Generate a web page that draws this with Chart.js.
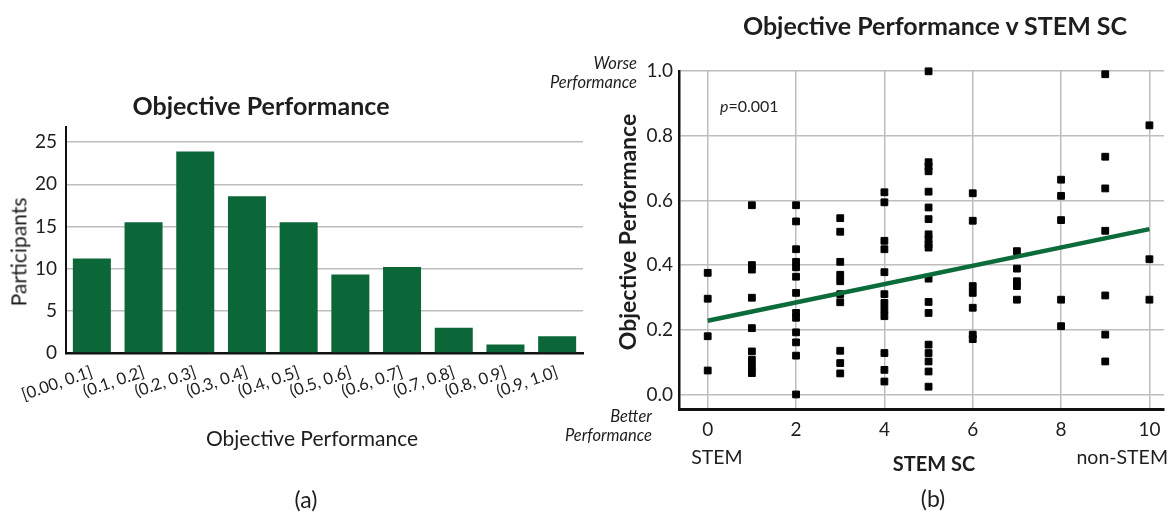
<!DOCTYPE html>
<html>
<head>
<meta charset="utf-8">
<script src="https://cdn.jsdelivr.net/npm/chart.js@4.4.1/dist/chart.umd.min.js"></script>
<style>
  html, body { margin: 0; padding: 0; background: #fff; }
  #wrap { position: relative; width: 1173px; height: 514px; overflow: hidden;
          font-family: Lato, "DejaVu Sans", sans-serif; color: #1e1e1e; }
  canvas { position: absolute; top: 0; }
  .t { position: absolute; white-space: nowrap; line-height: 1.2; }
  .c { transform: translate(-50%, -50%); }
  .r { transform: translate(-100%, -50%); text-align: right; }
  .l { transform: translate(0, -50%); }
  .v { transform: translate(-50%, -50%) rotate(-90deg); }
  .b { font-weight: 700; }
  .i { font-style: italic; }
</style>
</head>
<body>
<div id="wrap">
  <canvas id="hist" width="590" height="514" style="left:0;width:590px;height:514px"></canvas>
  <canvas id="scat" width="633" height="514" style="left:540px;width:633px;height:514px"></canvas>

  <!-- panel (a) -->
  <div class="t c b" style="left:261px;top:105px;font-size:25px">Objective Performance</div>
  <div class="t v" style="left:18px;top:252px;font-size:21px">Participants</div>
  <div class="t c" style="left:312px;top:438px;font-size:21px">Objective Performance</div>
  <div class="t c" style="left:306px;top:500px;font-size:23px">(a)</div>

  <!-- panel (b) -->
  <div class="t c b" style="left:935px;top:25px;font-size:25px">Objective Performance v STEM SC</div>
  <div class="t v b" style="left:628px;top:232px;font-size:23px">Objective Performance</div>
  <div class="t r i" style="left:637px;top:64px;font-size:16.5px">Worse</div>
  <div class="t r i" style="left:637px;top:83px;font-size:16.5px">Performance</div>
  <div class="t r i" style="left:652px;top:417px;font-size:16.5px">Better</div>
  <div class="t r i" style="left:652px;top:436px;font-size:16.5px">Performance</div>
  <div class="t l" style="left:720px;top:106px;font-size:16px"><span class="i">p</span>=0.001</div>
  <div class="t c" style="left:717px;top:457px;font-size:19.5px">STEM</div>
  <div class="t c b" style="left:934px;top:463px;font-size:20px">STEM SC</div>
  <div class="t r" style="left:1168px;top:457px;font-size:19.5px">non-STEM</div>
  <div class="t c" style="left:933px;top:499px;font-size:23px">(b)</div>
</div>

<script>
// Histogram of objective performance scores
const binLabels = ['[0.00, 0.1]', '(0.1, 0.2]', '(0.2, 0.3]', '(0.3, 0.4]', '(0.4, 0.5]',
                   '(0.5, 0.6]', '(0.6, 0.7]', '(0.7, 0.8]', '(0.8, 0.9]', '(0.9, 1.0]'];
const participants = [11.2, 15.5, 23.9, 18.6, 15.5, 9.3, 10.2, 3, 1, 2];

// Objective performance of each participant, grouped by STEM self-concept score
const scLevels = [0, 1, 2, 3, 4, 5, 6, 7, 8, 9, 10];
const perfBySc = [
  [0.376, 0.296, 0.18, 0.074],
  [0.585, 0.40, 0.386, 0.299, 0.205, 0.133, 0.107, 0.086, 0.066],
  [0.585, 0.535, 0.449, 0.41, 0.393, 0.364, 0.314, 0.252, 0.237, 0.192, 0.161, 0.12, 0.0],
  [0.545, 0.503, 0.41, 0.37, 0.35, 0.31, 0.285, 0.135, 0.097, 0.065],
  [0.625, 0.594, 0.475, 0.449, 0.378, 0.31, 0.283, 0.262, 0.242, 0.128, 0.076, 0.04],
  [0.999, 0.718, 0.705, 0.69, 0.627, 0.578, 0.542, 0.495, 0.48, 0.464, 0.454, 0.358,
   0.286, 0.252, 0.154, 0.128, 0.102, 0.071, 0.024],
  [0.622, 0.537, 0.335, 0.314, 0.268, 0.185, 0.171],
  [0.443, 0.389, 0.35, 0.335, 0.293],
  [0.664, 0.614, 0.539, 0.293, 0.211],
  [0.99, 0.735, 0.637, 0.506, 0.306, 0.185, 0.102],
  [0.832, 0.418, 0.293]
];

// Least-squares fit line end points
const fitX = [0, 10];
const fitY = [0.228, 0.511];

const textColor = '#1e1e1e';
const gridColor = '#bdbdbd';
const fontFamily = 'Lato, "DejaVu Sans", sans-serif';

new Chart(document.getElementById('hist'), {
  type: 'bar',
  data: {
    labels: binLabels,
    datasets: [{
      data: participants,
      backgroundColor: '#0b6638',
      categoryPercentage: 1,
      barPercentage: 0.735
    }]
  },
  options: {
    responsive: false,
    animation: false,
    layout: { padding: { top: 127, right: 7, bottom: 65, left: 0 } },
    plugins: { legend: { display: false }, tooltip: { enabled: false } },
    scales: {
      x: {
        grid: { display: false },
        border: { display: true, color: '#111', width: 2.5 },
        ticks: {
          autoSkip: false, minRotation: 19, maxRotation: 19, padding: 1,
          color: textColor, font: { family: fontFamily, size: 16.5 }
        },
        afterFit: s => { s.height = 96; }
      },
      y: {
        min: 0, max: 26.8,
        grid: { color: gridColor, lineWidth: 1.5, drawTicks: false },
        border: { display: true, color: '#111', width: 2 },
        ticks: {
          stepSize: 5, includeBounds: false, padding: 9,
          color: textColor, font: { family: fontFamily, size: 19 }
        },
        afterFit: s => { s.width = 66; }
      }
    }
  }
});

const scatterPoints = [];
scLevels.forEach((sc, i) => perfBySc[i].forEach(p => scatterPoints.push({ x: sc, y: p })));
const fitPoints = fitX.map((x, i) => ({ x, y: fitY[i] }));

new Chart(document.getElementById('scat'), {
  type: 'scatter',
  data: {
    datasets: [
      {
        data: fitPoints, showLine: true, pointRadius: 0,
        borderColor: '#0c6b3b', borderWidth: 4.5, order: 0, clip: false
      },
      {
        data: scatterPoints, pointStyle: 'rect', pointRadius: 4.8,
        backgroundColor: '#000', borderColor: '#000', borderWidth: 1, order: 1, clip: false
      }
    ]
  },
  options: {
    responsive: false,
    animation: false,
    layout: { padding: { top: 71, right: 9, bottom: 65, left: 0 } },
    plugins: { legend: { display: false }, tooltip: { enabled: false } },
    scales: {
      x: {
        type: 'linear', min: -0.65, max: 10.33,
        grid: { color: gridColor, lineWidth: 1.5, drawTicks: false },
        border: { display: true, color: '#111', width: 3 },
        ticks: {
          stepSize: 2, includeBounds: false, padding: 9,
          color: textColor, font: { family: fontFamily, size: 19 }
        },
        afterFit: s => { s.height = 40; }
      },
      y: {
        min: -0.045, max: 1.0,
        grid: { color: gridColor, lineWidth: 1.5, drawTicks: false },
        border: { display: true, color: '#111', width: 2.5 },
        ticks: {
          stepSize: 0.2, includeBounds: false, padding: 6,
          color: textColor, font: { family: fontFamily, size: 19 },
          callback: v => v.toFixed(1)
        },
        afterFit: s => { s.width = 139; }
      }
    }
  }
});
</script>
</body>
</html>
